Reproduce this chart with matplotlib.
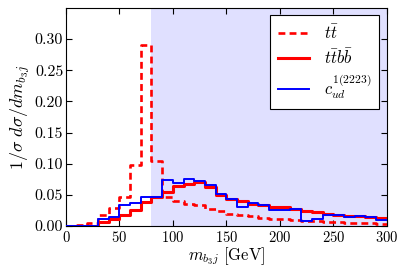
import numpy as np
import matplotlib
matplotlib.use("Agg")
import matplotlib.pyplot as plt

plt.rcParams['font.family'] = ['cmr10', 'DejaVu Serif']
plt.rcParams['mathtext.fontset'] = 'cm'
plt.rcParams['axes.formatter.use_mathtext'] = True

# bin edges (GeV) and histogram values (10 GeV bins, 0-300)
edges = np.arange(0, 310, 10)
tt = [0.0, 0.001, 0.005, 0.018, 0.029, 0.047, 0.098, 0.290, 0.104, 0.046,
      0.040, 0.036, 0.033, 0.028, 0.024, 0.020, 0.0175, 0.016, 0.0135, 0.012,
      0.011, 0.0095, 0.0085, 0.0075, 0.007, 0.0065, 0.0055, 0.005, 0.0045, 0.004]
ttbb = [0.0, 0.0, 0.0, 0.006, 0.011, 0.017, 0.026, 0.039, 0.046, 0.055,
        0.064, 0.068, 0.070, 0.062, 0.050, 0.044, 0.040, 0.036, 0.033, 0.031,
        0.030, 0.027, 0.024, 0.022, 0.020, 0.0185, 0.0165, 0.0165, 0.014, 0.0123]
cud = [0.0, 0.0, 0.0, 0.012, 0.014, 0.034, 0.037, 0.046, 0.047, 0.074,
       0.0685, 0.075, 0.073, 0.066, 0.051, 0.043, 0.031, 0.037, 0.034, 0.026,
       0.026, 0.027, 0.0085, 0.012, 0.018, 0.017, 0.015, 0.016, 0.0145, 0.0095]
labels = [r'$t\bar{t}$', r'$t\bar{t}b\bar{b}$', r'$c_{ud}^{1(2223)}$']
xticks = [0, 50, 100, 150, 200, 250, 300]
yticks = [0.00, 0.05, 0.10, 0.15, 0.20, 0.25, 0.30]
shade = (80, 300)

fig = plt.figure(figsize=(4.07, 2.74), dpi=100)
ax = fig.add_axes([0.162, 0.175, 0.788, 0.796])

ax.axvspan(shade[0], shade[1], color=(0.88, 0.88, 1.0), lw=0, zorder=0)

def st(v):
    return np.append(v, v[-1])

ax.step(edges, st(tt), where='post', color='red', lw=1.9, ls=(0, (2.6, 1.6)), label=labels[0], zorder=3)
ax.step(edges, st(ttbb), where='post', color='red', lw=2.2, label=labels[1], zorder=2)
ax.step(edges, st(cud), where='post', color='blue', lw=1.4, label=labels[2], zorder=4)

ax.set_xlim(0, 300)
ax.set_ylim(0, 0.35)
ax.set_xticks(xticks)
ax.set_yticks(yticks)
ax.set_yticklabels(['%.2f' % v for v in yticks])
ax.tick_params(direction='in', top=True, right=True, length=4)
ax.tick_params(axis='x', labelsize=10.5, pad=3)
ax.tick_params(axis='y', labelsize=11.5, pad=2)
ax.set_xlabel(r'$m_{b_3j}\ [\mathrm{GeV}]$', fontsize=12, labelpad=0)
ax.set_ylabel(r'$1/\sigma\ d\sigma/dm_{b_3j}$', fontsize=13, labelpad=2)

leg = ax.legend(loc='upper right', fontsize=12, fancybox=False, framealpha=1,
                edgecolor='black', borderaxespad=0.45, handlelength=1.9,
                labelspacing=0.35, handletextpad=0.9, borderpad=0.45)
leg.get_frame().set_linewidth(0.8)

fig.savefig('out.png', dpi=100)
